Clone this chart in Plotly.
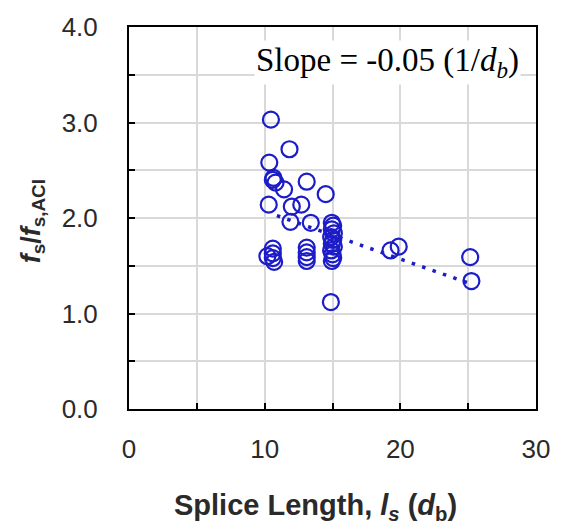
import plotly.graph_objects as go

# Splice length (in bar diameters) and normalized stress f_s / f_s,ACI
splice_length = [
    10.46, 11.83, 10.34, 10.65, 10.6, 10.8, 11.43, 13.1, 14.5,
    10.3, 12.0, 12.7, 11.9, 13.4,
    10.2, 10.6, 10.6, 10.6, 10.7,
    13.1, 13.1, 13.1, 13.1,
    14.95, 15.05, 14.95, 15.1, 14.9, 15.05, 14.95, 15.1, 14.9, 15.0, 15.05, 14.95,
    14.88, 19.28, 19.88, 25.15, 25.24,
]
stress_ratio = [
    3.03, 2.72, 2.58, 2.42, 2.40, 2.37, 2.30, 2.38, 2.25,
    2.14, 2.12, 2.14, 1.96, 1.95,
    1.60, 1.68, 1.63, 1.58, 1.54,
    1.69, 1.64, 1.59, 1.55,
    1.95, 1.92, 1.88, 1.84, 1.80, 1.77, 1.73, 1.70, 1.66, 1.62, 1.58, 1.55,
    1.12, 1.66, 1.70, 1.59, 1.34,
]

trend_slope = -0.05
trend_intercept = 2.57
trend_x = [10.9, 25.2]
trend_y = [trend_intercept + trend_slope * x for x in trend_x]

x_ticks = [0, 10, 20, 30]
y_ticks = [0.0, 1.0, 2.0, 3.0, 4.0]
x_range = [0, 30]
y_range = [0, 4]

blue = "#1c1cc8"
grid = "#d9d9d9"
label_color = "#2a2a2a"
tick_font = dict(family="Liberation Sans, Arial", size=26, color=label_color)

fig = go.Figure()
fig.add_trace(go.Scatter(
    x=trend_x, y=trend_y, mode="lines",
    line=dict(color=blue, width=3.5, dash="3.5px,7.5px"),
    showlegend=False, hoverinfo="skip",
))
fig.add_trace(go.Scatter(
    x=splice_length, y=stress_ratio, mode="markers",
    marker=dict(symbol="circle-open", size=16, color=blue, line=dict(width=2.2, color=blue)),
    showlegend=False,
))
# empty trace so the tick-only overlay axis is always drawn
fig.add_trace(go.Scatter(x=[], y=[], yaxis="y2", showlegend=False, hoverinfo="skip"))

fig.update_layout(
    width=562, height=525,
    margin=dict(l=129, r=19, t=23, b=116),
    plot_bgcolor="white", paper_bgcolor="white",
    xaxis=dict(
        range=x_range, tickvals=x_ticks, ticktext=[str(v) for v in x_ticks],
        showline=True, linecolor="black", linewidth=2, mirror=True,
        ticks="inside", ticklen=6, tickwidth=2, tickcolor="black",
        showgrid=True, gridcolor=grid, gridwidth=1.5, zeroline=False,
        minor=dict(dtick=5, tick0=0, ticks="inside", ticklen=6, tickwidth=2, tickcolor="black",
                   showgrid=True, gridcolor=grid, gridwidth=1.5),
        ticklabelstandoff=16,
        tickfont=tick_font,
    ),
    yaxis=dict(
        range=y_range, tickvals=y_ticks, ticktext=[f"{v:.1f}" for v in y_ticks],
        showline=True, linecolor="black", linewidth=2, mirror=True,
        ticks="outside", ticklen=24, tickwidth=1, tickcolor="rgba(0,0,0,0)",
        showgrid=True, gridcolor=grid, gridwidth=1.5, zeroline=False,
        minor=dict(dtick=0.5, tick0=0, showgrid=True, gridcolor=grid, gridwidth=1.5),
        tickfont=tick_font,
    ),
    yaxis2=dict(
        range=y_range, overlaying="y", side="left", anchor="x",
        dtick=0.5, tick0=0, ticks="inside", ticklen=6, tickwidth=2, tickcolor="black",
        showticklabels=False, showgrid=False, showline=False, zeroline=False,
    ),
    annotations=[
        dict(
            text="Slope = -0.05 (1/<i>d<sub>b</sub></i>)",
            xref="paper", yref="paper", x=0.963, y=0.907,
            xanchor="right", yanchor="middle", showarrow=False,
            font=dict(family="Liberation Serif, Times New Roman", size=33, color="black"),
            bgcolor="white", borderpad=1,
        ),
        dict(
            text="<b>Splice Length, <i>l<sub>s</sub></i> (<i>d</i><sub>b</sub>)</b>",
            xref="paper", yref="paper", x=0.459, y=-0.256,
            xanchor="center", yanchor="middle", showarrow=False,
            font=dict(family="Liberation Sans, Arial", size=29, color=label_color),
        ),
        dict(
            text="<b><i>f</i><sub>s</sub>/<i>f</i><sub>s,ACI</sub></b>",
            xref="paper", yref="paper", x=-0.237, y=0.49,
            xanchor="center", yanchor="middle", showarrow=False, textangle=-90,
            font=dict(family="Liberation Sans, Arial", size=27, color=label_color),
        ),
    ],
)

fig.write_html("out.html")
